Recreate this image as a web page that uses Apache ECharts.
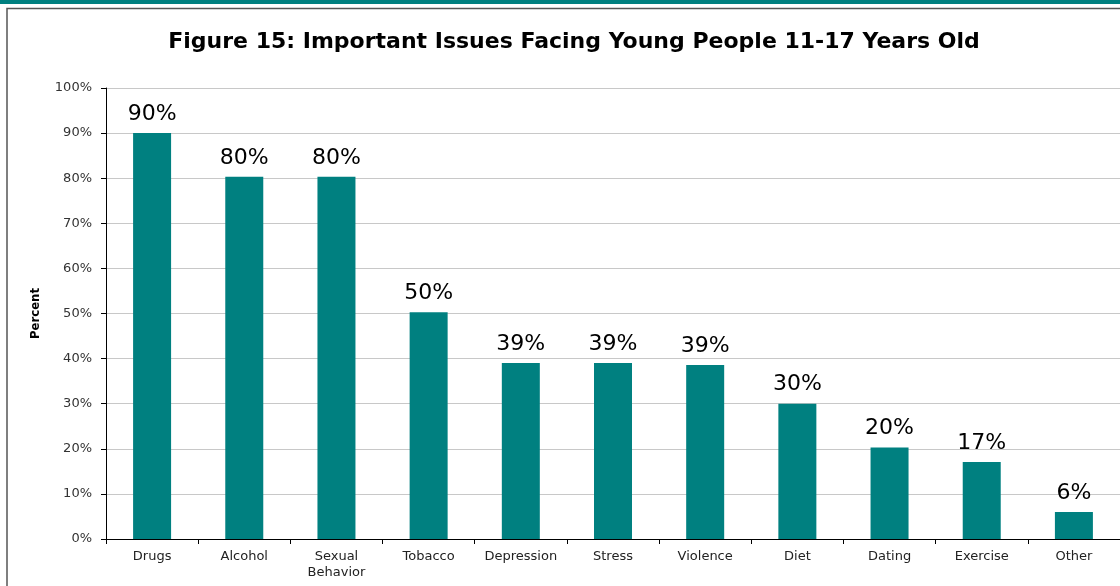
<!DOCTYPE html>
<html>
<head>
<meta charset="utf-8">
<script src="https://cdn.jsdelivr.net/npm/echarts@6/dist/echarts.min.js"></script>
<style>html,body{margin:0;padding:0;background:#fff}#c{width:1120px;height:586px}</style>
</head>
<body>
<div id="c"></div>
<script>
const titleText = 'Figure 15: Important Issues Facing Young People 11-17 Years Old';
const categories = ['Drugs', 'Alcohol', 'Sexual\nBehavior', 'Tobacco', 'Depression', 'Stress', 'Violence', 'Diet', 'Dating', 'Exercise', 'Other'];
const values = [90, 80.3, 80.3, 50.3, 39, 39, 38.6, 30, 20.3, 17.1, 6];
const valueLabels = ['90%', '80%', '80%', '50%', '39%', '39%', '39%', '30%', '20%', '17%', '6%'];
const yAxisName = 'Percent';

const chart = echarts.init(document.getElementById('c'));
chart.setOption({
  animation: false,
  backgroundColor: '#fff',
  title: {
    text: titleText, left: 569, top: 26, textAlign: 'center',
    textStyle: { fontFamily: 'DejaVu Sans', fontWeight: 'bold', fontSize: 22, color: '#000' }
  },
  graphic: [
    { type: 'rect', shape: { x: 0, y: 0, width: 1120, height: 4 }, style: { fill: '#008080' } },
    { type: 'polyline', shape: { points: [[7, 586], [7, 8.5], [1120, 8.5]] }, style: { stroke: '#555', lineWidth: 1.5, fill: null } }
  ],
  grid: { left: 106, right: 0, top: 88, bottom: 47 },
  xAxis: {
    type: 'category', data: categories,
    axisLine: { lineStyle: { color: '#000', width: 1 } },
    axisTick: { show: true, alignWithLabel: false, length: 5, lineStyle: { color: '#000' } },
    axisLabel: { fontFamily: 'DejaVu Sans', fontSize: 13, color: '#222', margin: 10, lineHeight: 16, interval: 0 }
  },
  yAxis: {
    type: 'value', min: 0, max: 100, interval: 10,
    name: yAxisName, nameLocation: 'middle', nameGap: 64, nameRotate: 90,
    nameTextStyle: { fontFamily: 'DejaVu Sans Condensed, Liberation Sans, sans-serif', fontWeight: 'bold', fontSize: 13, color: '#000' },
    axisLine: { show: true, lineStyle: { color: '#000' } },
    axisTick: { show: true, length: 5, lineStyle: { color: '#000' } },
    axisLabel: { formatter: '{value}%', fontFamily: 'DejaVu Sans', fontSize: 13, color: '#333', margin: 14 },
    splitLine: { lineStyle: { color: '#c8c8c8', width: 1 } }
  },
  series: [{
    type: 'bar', data: values, barWidth: 38,
    itemStyle: { color: '#008080' },
    label: {
      show: true, position: 'top', distance: 8,
      formatter: p => valueLabels[p.dataIndex],
      fontFamily: 'DejaVu Sans', fontSize: 22, color: '#000'
    }
  }]
});
</script>
</body>
</html>
